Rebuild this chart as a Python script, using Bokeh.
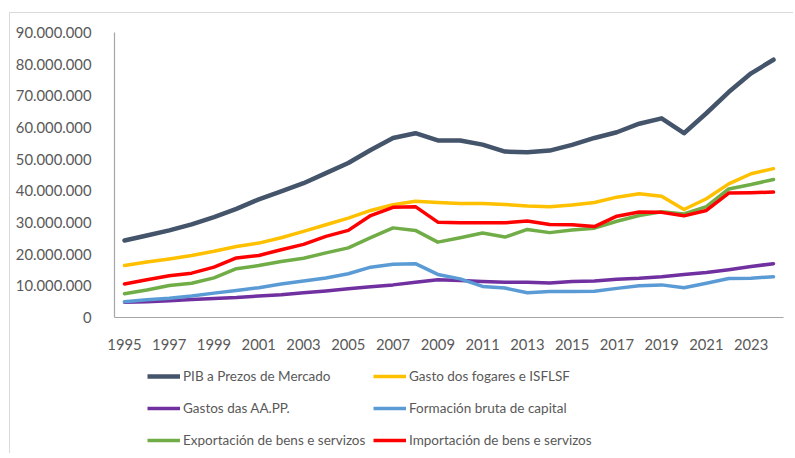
from bokeh.plotting import figure
from bokeh.layouts import column
from bokeh.models import Range1d, FixedTicker, Legend, LegendItem
from bokeh.embed import file_html
from bokeh.resources import INLINE

years = list(range(1995, 2025))

pib = [24.3, 25.9, 27.5, 29.4, 31.7, 34.3, 37.3, 39.8, 42.4, 45.6, 48.8, 52.9, 56.7,
       58.2, 55.9, 55.9, 54.6, 52.4, 52.2, 52.7, 54.5, 56.7, 58.5, 61.2, 62.9, 58.2,
       64.5, 71.2, 77.1, 81.4]
fogares = [16.4, 17.5, 18.5, 19.6, 20.9, 22.4, 23.5, 25.2, 27.2, 29.3, 31.4, 33.8, 35.6,
           36.7, 36.3, 36.0, 36.0, 35.7, 35.2, 35.0, 35.5, 36.3, 38.0, 39.1, 38.3, 34.1,
           37.5, 42.2, 45.4, 47.0]
aapp = [4.8, 5.0, 5.3, 5.7, 6.0, 6.3, 6.8, 7.2, 7.8, 8.4, 9.1, 9.7, 10.3,
        11.1, 11.9, 11.7, 11.4, 11.1, 11.1, 10.9, 11.4, 11.5, 12.1, 12.4, 12.9, 13.6,
        14.2, 15.1, 16.1, 17.0]
fbc = [5.0, 5.6, 6.1, 6.8, 7.7, 8.5, 9.4, 10.6, 11.5, 12.5, 13.8, 15.9, 16.8,
       17.0, 13.6, 12.2, 9.8, 9.3, 7.8, 8.2, 8.2, 8.3, 9.2, 10.0, 10.3, 9.4,
       10.8, 12.3, 12.4, 12.9]
export = [7.5, 8.7, 10.1, 10.8, 12.5, 15.4, 16.4, 17.7, 18.7, 20.4, 22.0, 25.2, 28.3,
          27.5, 23.8, 25.2, 26.7, 25.4, 27.8, 26.8, 27.6, 28.2, 30.4, 32.2, 33.4, 32.7,
          35.0, 40.6, 42.0, 43.6]
importe = [10.6, 11.9, 13.2, 14.0, 15.9, 18.8, 19.6, 21.4, 23.1, 25.6, 27.5, 32.2, 34.8,
           35.0, 30.1, 29.9, 29.9, 29.9, 30.5, 29.4, 29.3, 28.7, 32.0, 33.3, 33.2, 32.1,
           33.8, 39.3, 39.4, 39.6]

series = [
    ("PIB a Prezos de Mercado", pib, "#44546A", 4.5),
    ("Gasto dos fogares e ISFLSF", fogares, "#FFC000", 3.5),
    ("Gastos das AA.PP.", aapp, "#7030A0", 3.5),
    ("Formación bruta de capital", fbc, "#5B9BD5", 3.5),
    ("Exportación de bens e servizos", export, "#70AD47", 3.5),
    ("Importación de bens e servizos", importe, "#FF0000", 3.5),
]

y_ticks = [i * 10_000_000 for i in range(10)]
x_ticks = list(range(1995, 2024, 2))

FONT = "Lato"
TXT = "#595959"
AX = "#A6A6A6"

p = figure(width=783, height=340, output_backend="svg", toolbar_location=None,
           x_range=Range1d(1994.553, 2024.447), y_range=Range1d(0, 90_000_000),
           min_border_left=104, min_border_right=10, min_border_top=19, min_border_bottom=36)
p.outline_line_color = None
p.xgrid.visible = False
p.ygrid.visible = False

for name, vals, color, w in series:
    p.line(years, [v * 1_000_000 for v in vals], line_color=color, line_width=w,
           line_join="round", line_cap="round")

p.yaxis.ticker = FixedTicker(ticks=y_ticks)
p.yaxis.major_label_overrides = {t: f"{t:,}".replace(",", ".") for t in y_ticks}
p.xaxis.ticker = FixedTicker(ticks=x_ticks)
for ax in (p.xaxis, p.yaxis):
    ax.axis_line_color = AX
    ax.axis_line_width = 1.2
    ax.major_tick_line_color = None
    ax.minor_tick_line_color = None
    ax.major_label_text_font = FONT
    ax.major_label_text_font_size = "14.8px"
    ax.major_label_text_color = TXT
p.yaxis.major_label_standoff = 17
p.xaxis.major_label_standoff = 15

# legend panel (separate figure underneath the chart); its ranges keep the
# proxy lines out of view so only the legend shows
lf = figure(width=783, height=100, output_backend="svg", toolbar_location=None,
            x_axis_location=None, y_axis_location=None,
            x_range=Range1d(0, 1), y_range=Range1d(0, 1),
            min_border_left=0, min_border_right=0, min_border_top=0, min_border_bottom=0)
lf.outline_line_color = None
lf.xgrid.visible = False
lf.ygrid.visible = False

items = []
for name, vals, color, w in series:
    r = lf.line(years, vals, line_color=color, line_width=w)
    items.append(LegendItem(label=name, renderers=[r]))

def make_legend(its, x, y):
    lg = Legend(items=its, location=(x, y), orientation="vertical")
    lg.padding = 0
    lg.margin = 0
    lg.border_line_alpha = 0
    lg.background_fill_alpha = 0
    lg.glyph_width = 33
    lg.glyph_height = 20
    lg.label_height = 20
    lg.spacing = 12
    lg.label_standoff = 3
    lg.label_text_font = FONT
    lg.label_text_font_size = "13.5px"
    lg.label_text_color = TXT
    return lg

lf.add_layout(make_legend([items[0], items[2], items[4]], 33, 3))
lf.add_layout(make_legend([items[1], items[3], items[5]], 259, 3))

layout = column(p, lf, spacing=0, margin=(12, 0, 0, 9))
layout.styles = {"border-top": "1px solid #D9D9D9", "border-left": "1px solid #D9D9D9"}
open("out.html", "w").write(file_html(layout, INLINE))
